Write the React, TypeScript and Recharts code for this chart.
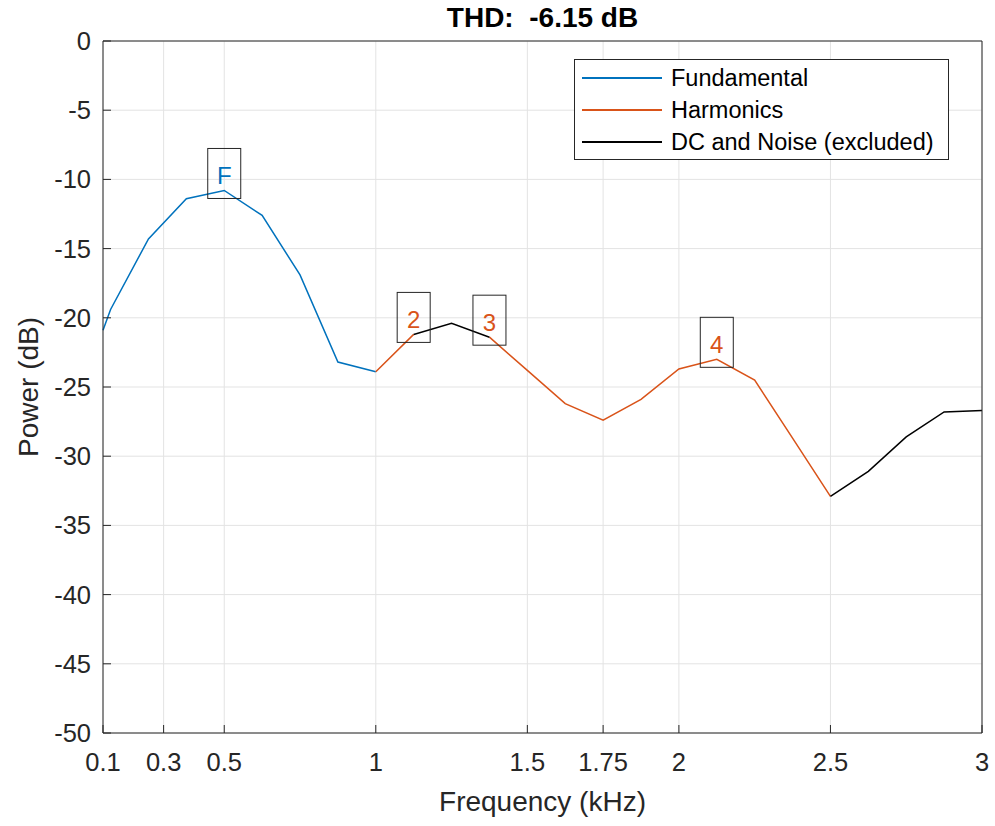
import {
    LineChart,
    Line,
    XAxis,
    YAxis,
    CartesianGrid,
    Legend,
    Label,
    ReferenceDot,
} from 'recharts';

// spectrum bins (kHz) and power (dB)
const freqKHz = [
    0.1, 0.125, 0.25, 0.375, 0.5, 0.625, 0.75, 0.875, 1.0, 1.125, 1.25, 1.375, 1.5,
    1.625, 1.75, 1.875, 2.0, 2.125, 2.25, 2.375, 2.5, 2.625, 2.75, 2.875, 3.0,
];
const powerDb = [
    -20.9, -19.4, -14.3, -11.4, -10.8, -12.6, -16.9, -23.2, -23.9, -21.2, -20.4, -21.4, -23.8,
    -26.2, -27.4, -25.9, -23.7, -23.0, -24.5, -28.7, -32.9, -31.1, -28.6, -26.8, -26.7,
];

// which bins belong to which part of the spectrum
const fundamentalBands = [[0.1, 1.0]];
const harmonicBands = [[1.0, 1.125], [1.375, 2.5]];
const noiseBands = [[1.125, 1.375], [2.5, 3.0]];

const seriesNames = ['Fundamental', 'Harmonics', 'DC and Noise (excluded)'];

// F / harmonic markers
const markerLabels = ['F', '2', '3', '4'];
const markerFreqs = [0.5, 1.125, 1.375, 2.125];
const markerPower = [-10.8, -21.2, -21.4, -23.0];

const xTicks = [0.1, 0.3, 0.5, 1, 1.5, 1.75, 2, 2.5, 3];
const yTicks = [-50, -45, -40, -35, -30, -25, -20, -15, -10, -5, 0];

const BLUE = '#0072BD';
const ORANGE = '#D95319';
const AXIS = '#262626';
const FONT = '"Liberation Sans", Arial, Helvetica, sans-serif';

const inBands = (f: number, bands: number[][]) =>
    bands.some(([a, b]) => f >= a - 1e-9 && f <= b + 1e-9);

const rows = freqKHz.map((f, i) => ({
    f,
    fundamental: inBands(f, fundamentalBands) ? powerDb[i] : null,
    harmonics: inBands(f, harmonicBands) ? powerDb[i] : null,
    noise: inBands(f, noiseBands) ? powerDb[i] : null,
}));

const markers = markerLabels.map((label, i) => ({
    label,
    f: markerFreqs[i],
    p: markerPower[i],
    color: label === 'F' ? BLUE : ORANGE,
}));

function MarkerBox({ cx, cy, label, color }: any) {
    if (cx == null || cy == null) return null;
    return (
        <g>
            <rect x={cx - 16.5} y={cy - 42} width={33} height={50} fill="none" stroke={AXIS} strokeWidth={1} />
            <text x={cx} y={cy - 6.5} textAnchor="middle" fontSize={24} fill={color} fontFamily={FONT}>
                {label}
            </text>
        </g>
    );
}

function LegendBox({ payload }: any) {
    const items = [...(payload || [])].sort(
        (a: any, b: any) => seriesNames.indexOf(a.value) - seriesNames.indexOf(b.value)
    );
    return (
        <div
            style={{
                position: 'relative',
                width: 373,
                height: 99,
                border: `1px solid ${AXIS}`,
                background: 'white',
                boxSizing: 'content-box',
                fontFamily: FONT,
                fontSize: 23.5,
                color: '#000',
            }}
        >
            {items.map((item: any, i: number) => (
                <div
                    key={item.value}
                    style={{
                        position: 'absolute',
                        left: 0,
                        top: 2 + i * 32,
                        height: 32,
                        display: 'flex',
                        alignItems: 'center',
                        whiteSpace: 'nowrap',
                    }}
                >
                    <div style={{ width: 80, height: 1.5, background: item.color, marginLeft: 7, marginRight: 9 }} />
                    <span>{item.value}</span>
                </div>
            ))}
        </div>
    );
}

export default function App() {
    return (
        <div style={{ position: 'absolute', left: 0, top: 0, width: 995, height: 826, background: 'white', fontFamily: FONT }}>
            <div
                style={{
                    position: 'absolute',
                    left: 103,
                    width: 879,
                    top: 2,
                    textAlign: 'center',
                    fontSize: 28,
                    fontWeight: 'bold',
                    color: '#000',
                    whiteSpace: 'pre',
                    lineHeight: '32px',
                    zIndex: 2,
                }}
            >
                {'THD:  -6.15 dB'}
            </div>
            <LineChart width={995} height={826} data={rows} margin={{ top: 40, right: 12, bottom: 0, left: 0 }}>
                <CartesianGrid stroke="#e3e3e3" strokeWidth={1} />
                <XAxis
                    dataKey="f"
                    type="number"
                    domain={[0.1, 3]}
                    ticks={xTicks}
                    interval={0}
                    height={93}
                    tickSize={-8}
                    tickMargin={28}
                    axisLine={{ stroke: AXIS }}
                    tickLine={{ stroke: AXIS }}
                    tick={{ fontSize: 25.5, fill: AXIS, fontFamily: FONT }}
                >
                    <Label value="Frequency (kHz)" position="insideBottom" offset={15} fontSize={28} fill={AXIS} fontFamily={FONT} />
                </XAxis>
                <XAxis
                    xAxisId="top"
                    orientation="top"
                    type="number"
                    dataKey="f"
                    domain={[0.1, 3]}
                    ticks={xTicks}
                    interval={0}
                    height={1}
                    tickSize={-8}
                    tick={false}
                    axisLine={{ stroke: AXIS }}
                    tickLine={{ stroke: AXIS }}
                />
                <YAxis
                    type="number"
                    domain={[-50, 0]}
                    ticks={yTicks}
                    interval={0}
                    width={103}
                    tickSize={-8}
                    tickMargin={20}
                    axisLine={{ stroke: AXIS }}
                    tickLine={{ stroke: AXIS }}
                    tick={{ fontSize: 25.5, fill: AXIS, fontFamily: FONT }}
                >
                    <Label
                        content={() => (
                            <text
                                x={38}
                                y={387}
                                transform="rotate(-90 38 387)"
                                textAnchor="middle"
                                fontSize={28}
                                fill={AXIS}
                                fontFamily={FONT}
                            >
                                Power (dB)
                            </text>
                        )}
                    />
                </YAxis>
                <YAxis
                    yAxisId="right"
                    orientation="right"
                    type="number"
                    domain={[-50, 0]}
                    ticks={yTicks}
                    interval={0}
                    width={1}
                    tickSize={-8}
                    tick={false}
                    axisLine={{ stroke: AXIS }}
                    tickLine={{ stroke: AXIS }}
                />
                <Legend
                    layout="vertical"
                    align="center"
                    verticalAlign="middle"
                    content={<LegendBox />}
                    wrapperStyle={{ left: 574, top: 59, width: 375, height: 101 }}
                />
                <Line
                    dataKey="fundamental"
                    name={seriesNames[0]}
                    stroke={BLUE}
                    strokeWidth={1.5}
                    dot={false}
                    activeDot={false}
                    type="linear"
                    isAnimationActive={false}
                />
                <Line
                    dataKey="harmonics"
                    name={seriesNames[1]}
                    stroke={ORANGE}
                    strokeWidth={1.5}
                    dot={false}
                    activeDot={false}
                    type="linear"
                    isAnimationActive={false}
                />
                <Line
                    dataKey="noise"
                    name={seriesNames[2]}
                    stroke="#000"
                    strokeWidth={1.5}
                    dot={false}
                    activeDot={false}
                    type="linear"
                    isAnimationActive={false}
                />
                {markers.map((m) => (
                    <ReferenceDot
                        key={m.label}
                        x={m.f}
                        y={m.p}
                        r={0}
                        ifOverflow="visible"
                        shape={(props: any) => <MarkerBox {...props} label={m.label} color={m.color} />}
                    />
                ))}
            </LineChart>
        </div>
    );
}
